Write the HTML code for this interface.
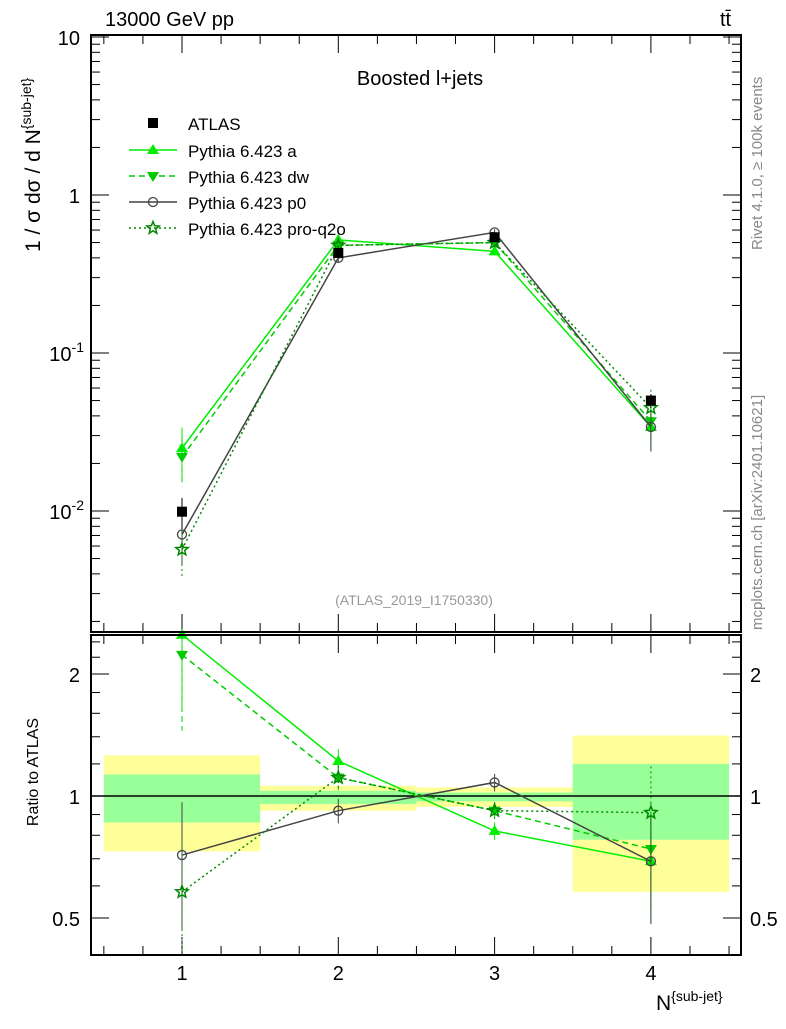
<!DOCTYPE html>
<html><head><meta charset="utf-8"><style>
body{margin:0;background:#fff;}
svg text{font-family:"Liberation Sans",sans-serif;}
</style></head><body>
<svg id="c" width="786" height="1024" xmlns="http://www.w3.org/2000/svg">
<g id="bands"></g>
<g id="grid"></g>
<g id="series"></g>
<rect x="91" y="35" width="650" height="597" fill="none" stroke="#000" stroke-width="2"/>
<rect x="91" y="635" width="650" height="320" fill="none" stroke="#000" stroke-width="2"/>
<text x="105" y="26" font-size="20">13000 GeV pp</text>
<text x="720" y="26" font-size="20">tt̄</text>
<text x="420" y="85" font-size="20" text-anchor="middle">Boosted l+jets</text>
<text x="414" y="605" font-size="14" fill="#999" text-anchor="middle">(ATLAS_2019_I1750330)</text>
<text transform="translate(762,250) rotate(-90)" font-size="15" fill="#888" text-anchor="start">Rivet 4.1.0, ≥ 100k events</text>
<text transform="translate(762,630) rotate(-90)" font-size="15" fill="#888">mcplots.cern.ch [arXiv:2401.10621]</text>
<text transform="translate(40,252) rotate(-90)" font-size="21" text-anchor="start">1 / σ dσ / d N<tspan dy="-9" font-size="14">{sub-jet}</tspan></text>
<text transform="translate(38,772) rotate(-90)" font-size="16" text-anchor="middle">Ratio to ATLAS</text>
<text x="656" y="1010" font-size="21">N<tspan dy="-9" font-size="14">{sub-jet}</tspan></text>
<g id="legend"></g>
</svg>
<script>
const categories=[1,2,3,4];
const atlasVals=[0.0099,0.43,0.54,0.050];
const atlasErr=[0.0022,0.03,0.03,0.005];
const aVals=[0.025,0.52,0.44,0.034];
const dwVals=[0.022,0.48,0.50,0.037];
const p0Vals=[0.0071,0.40,0.58,0.034];
const q2oVals=[0.0057,0.48,0.50,0.045];
const modelErrFrac=[0.35,0.07,0.05,0.3];
const aRatio=[2.5,1.22,0.82,0.69];
const dwRatio=[2.23,1.11,0.92,0.74];
const p0Ratio=[0.715,0.92,1.08,0.69];
const q2oRatio=[0.58,1.11,0.92,0.91];
const greenLo=[0.86,0.955,0.97,0.78];
const greenHi=[1.13,1.03,1.02,1.2];
const yellowLo=[0.73,0.92,0.94,0.58];
const yellowHi=[1.26,1.06,1.05,1.41];
const mainTicks=[0.01,0.1,1,10];
const mainTickLabels=["10^-2","10^-1","1","10"];
const ratioTicks=[0.5,1,2];
const ratioTickLabels=["0.5","1","2"];

const NS="http://www.w3.org/2000/svg";
const X=v=>182+(v-1)*156.3;
const Y=v=>195-158*Math.log10(v);
const R=v=>796-122*Math.log2(v);
const clampR=y=>Math.max(636,Math.min(954,y));
const clampM=y=>Math.max(36,Math.min(631,y));
function mk(tag,attrs,parent){const e=document.createElementNS(NS,tag);for(const k in attrs)e.setAttribute(k,attrs[k]);(parent||document.getElementById('series')).appendChild(e);return e;}
const bands=document.getElementById('bands');
categories.forEach((c,i)=>{
 let e=mk('rect',{x:X(c-0.5),y:R(yellowHi[i]),width:X(c+0.5)-X(c-0.5),height:R(yellowLo[i])-R(yellowHi[i]),fill:'#ffff99'},bands);
 
 
 e=mk('rect',{x:X(c-0.5),y:R(greenHi[i]),width:X(c+0.5)-X(c-0.5),height:R(greenLo[i])-R(greenHi[i]),fill:'#99ff99'},bands);
 
 
});
const grid=document.getElementById('grid');
let ln=mk('line',{x1:91,x2:741,y1:R(1),y2:R(1),stroke:'#000','stroke-width':1.5},grid);


for(let d=-3;d<=1;d++){for(let m=1;m<10;m++){const v=m*Math.pow(10,d);const y=Y(v);if(y<35||y>632)continue;const L=m==1?18:9;
 mk('line',{x1:91,x2:91+L,y1:y,y2:y,stroke:'#000'},grid);mk('line',{x1:741-L,x2:741,y1:y,y2:y,stroke:'#000'},grid);}}
mainTicks.forEach((v,i)=>{const y=Y(v);const s=mainTickLabels[i];let t;
 if(s.startsWith('10^')){t=mk('text',{x:84,y:y+8,'font-size':20,'text-anchor':'end'},grid);t.innerHTML='10<tspan dy="-9" font-size="14">'+s.slice(3)+'</tspan>';}
 else{t=mk('text',{x:80,y:y+8,'font-size':20,'text-anchor':'end'},grid);t.textContent=s;}
 
 });
[0.5,0.6,0.7,0.8,0.9,1,1.2,1.4,1.6,1.8,2,2.2,2.4].forEach(v=>{const y=R(v);const L=[0.5,1,2].includes(v)?18:9;
 mk('line',{x1:91,x2:91+L,y1:y,y2:y,stroke:'#000'},grid);mk('line',{x1:741-L,x2:741,y1:y,y2:y,stroke:'#000'},grid);});
ratioTicks.forEach((v,i)=>{[[80,'end'],[750,'start']].forEach(([x,a])=>{const t=mk('text',{x:x,y:R(v)+8,'font-size':20,'text-anchor':a},grid);t.textContent=ratioTickLabels[i];
 
 });});
for(let v=0.5;v<=4.55;v+=0.25){const x=X(v);const L=Math.abs(v-Math.round(v))<0.01?18:9;
 [[35,1],[632,-1],[635,1],[955,-1]].forEach(([y0,s])=>mk('line',{x1:x,x2:x,y1:y0,y2:y0+s*L,stroke:'#000'},grid));}
categories.forEach(c=>{const t=mk('text',{x:X(c),y:980,'font-size':20,'text-anchor':'middle'},grid);t.textContent=c;
 
 });

function marker(type,x,y,col,g){
 if(type=='sq')mk('rect',{x:x-5,y:y-5,width:10,height:10,fill:'#000'},g);
 if(type=='up')mk('polygon',{points:`${x},${y-6} ${x-6},${y+4} ${x+6},${y+4}`,fill:col},g);
 if(type=='down')mk('polygon',{points:`${x},${y+6} ${x-6},${y-4} ${x+6},${y-4}`,fill:col},g);
 if(type=='circ')mk('circle',{cx:x,cy:y,r:4.5,fill:'none',stroke:col,'stroke-width':1.3},g);
 if(type=='star'){let p=[];for(let k=0;k<10;k++){const r=k%2?2.8:6.5,a=-Math.PI/2+k*Math.PI/5;p.push((x+r*Math.cos(a)).toFixed(1)+','+(y+r*Math.sin(a)).toFixed(1));}mk('polygon',{points:p.join(' '),fill:'none',stroke:col,'stroke-width':1.5},g);}
}
const models=[
 {n:'pythia-a',v:aVals,r:aRatio,c:'#00ee00',d:'',m:'up',label:'Pythia 6.423 a'},
 {n:'pythia-dw',v:dwVals,r:dwRatio,c:'#00cc00',d:'6,4',m:'down',label:'Pythia 6.423 dw'},
 {n:'pythia-p0',v:p0Vals,r:p0Ratio,c:'#444',d:'',m:'circ',label:'Pythia 6.423 p0'},
 {n:'pythia-pro-q2o',v:q2oVals,r:q2oRatio,c:'#008800',d:'2,3',m:'star',label:'Pythia 6.423 pro-q2o'}];
models.forEach(md=>{
 const g=mk('g',{});
 
 
 const pm=categories.map((c,i)=>X(c)+','+Y(md.v[i])).join(' ');
 mk('polyline',{points:pm,fill:'none',stroke:md.c,'stroke-width':1.5,'stroke-dasharray':md.d},g);
 const pr=categories.map((c,i)=>X(c)+','+R(md.r[i])).join(' ');
 mk('polyline',{points:pr,fill:'none',stroke:md.c,'stroke-width':1.5,'stroke-dasharray':md.d},g);
 categories.forEach((c,i)=>{const f=modelErrFrac[i];
  mk('line',{x1:X(c),x2:X(c),y1:clampM(Y(md.v[i]*(1+f))),y2:clampM(Y(md.v[i]*(1-f))),stroke:md.c,'stroke-dasharray':md.d},g);
  mk('line',{x1:X(c),x2:X(c),y1:clampR(R(md.r[i]*(1+f))),y2:clampR(R(md.r[i]*(1-f))),stroke:md.c,'stroke-dasharray':md.d},g);
  marker(md.m,X(c),Y(md.v[i]),md.c,g);marker(md.m,X(c),R(md.r[i]),md.c,g);});
});
const ga=mk('g',{});


categories.forEach((c,i)=>{mk('line',{x1:X(c),x2:X(c),y1:Y(atlasVals[i]+atlasErr[i]),y2:Y(atlasVals[i]-atlasErr[i]),stroke:'#000'},ga);marker('sq',X(c),Y(atlasVals[i]),'#000',ga);});
const lg=document.getElementById('legend');
marker('sq',153,123,'#000',lg);
let t=mk('text',{x:188,y:130,'font-size':17},lg);t.textContent='ATLAS';


models.forEach((md,i)=>{const y=150+i*26;
 mk('line',{x1:129,x2:177,y1:y,y2:y,stroke:md.c,'stroke-width':1.5,'stroke-dasharray':md.d},lg);
 marker(md.m,153,y,md.c,lg);
 const tt=mk('text',{x:188,y:y+7,'font-size':17},lg);tt.textContent=md.label;
 
 });
</script>
</body></html>
